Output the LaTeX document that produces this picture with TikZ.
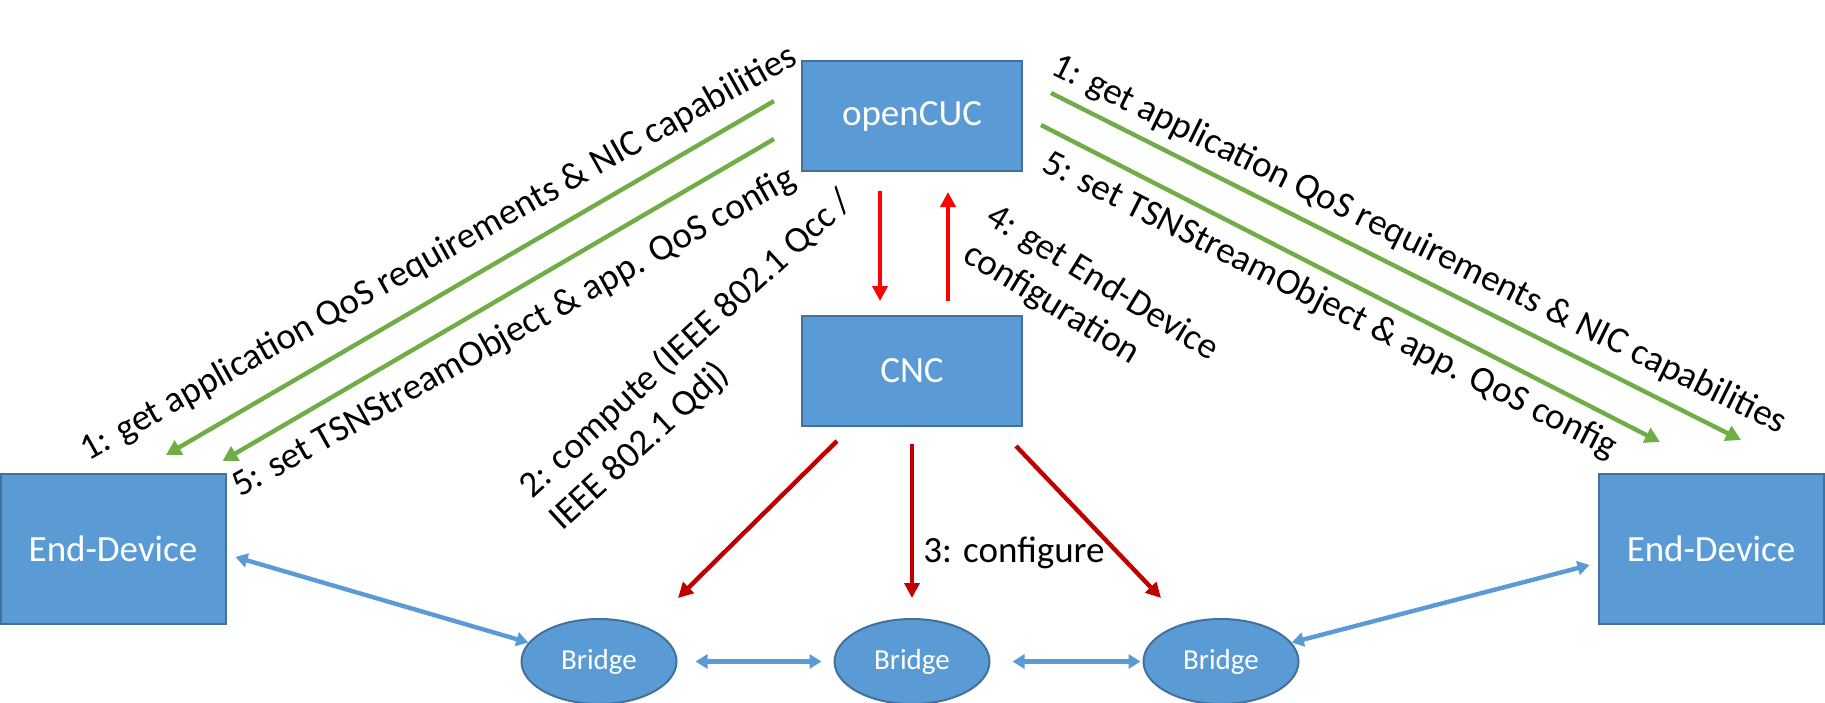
\documentclass[tikz,border=0pt]{standalone}
\usepackage{fontspec}
\setmainfont{Carlito}
\usepackage{tikz}
\usetikzlibrary{arrows.meta,positioning,shapes.geometric}
\definecolor{boxblue}{HTML}{5B9BD5}
\definecolor{boxedge}{HTML}{41719C}
\definecolor{msggreen}{HTML}{70AD47}
\definecolor{cfgred}{HTML}{FF0000}
\definecolor{cfgdark}{HTML}{C00000}
\tikzset{>=Latex}
\tikzset{
  box/.style={draw=boxedge, line width=1pt, fill=boxblue, text=white, inner sep=0pt, align=center, font=\fontsize{18.5}{22}\selectfont},
  bridgebox/.style={ellipse, draw=boxedge, line width=1pt, fill=boxblue, text=white, inner sep=0pt, minimum width=77.5pt, minimum height=42.5pt, font=\fontsize{14.5}{17}\selectfont},
  greenarrow/.style={-{Triangle[length=7.5pt,width=8pt]}, draw=msggreen, line width=2.2pt},
  redarrow/.style={-{Triangle[length=7.5pt,width=7.5pt]}, draw=cfgred, line width=2.2pt},
  darkarrow/.style={-{Triangle[length=7.5pt,width=7.5pt]}, draw=cfgdark, line width=2.2pt},
  linkarrow/.style={{Triangle[length=6pt,width=7pt]}-{Triangle[length=6pt,width=7pt]}, draw=boxblue, line width=2.2pt},
  lbl/.style={inner sep=0pt, align=left, font=\fontsize{18.5}{22}\selectfont},
}

\begin{document}
\begin{tikzpicture}[x=0.5pt, y=-0.5pt]
\useasboundingbox (0,0) rectangle (1825,702);
\node[box, minimum width=110pt, minimum height=55pt] (opencuc) at (912,116) {openCUC};
\node[box, minimum width=110pt, minimum height=55pt, below=71.5pt of opencuc] (cnc) {CNC};
\node[bridgebox, below=95.5pt of cnc] (bridge2) {Bridge};
\node[bridgebox, left=78pt of bridge2] (bridge1) {Bridge};
\node[bridgebox, right=76pt of bridge2] (bridge3) {Bridge};
\node[box, minimum width=112.5pt, minimum height=75pt] (edleft) at (113,549) {End-Device};
\node[box, minimum width=112.5pt, minimum height=75pt] (edright) at (1711,549) {End-Device};

\draw[greenarrow] ([shift={(-27,-15)}]opencuc.west) -- ([shift={(53,-18)}]edleft.north);
\draw[greenarrow] ([shift={(-27,23)}]opencuc.west) -- ([shift={(-4,-12)}]edleft.north east);
\draw[greenarrow] ([shift={(28,-23)}]opencuc.east) -- ([shift={(30,-33)}]edright.north);
\draw[greenarrow] ([shift={(18,9)}]opencuc.east) -- ([shift={(-51,-31)}]edright.north);

\draw[redarrow] ([shift={(-32,19)}]opencuc.south) -- ([shift={(-32,-14)}]cnc.north);
\draw[redarrow] ([shift={(36,-14)}]cnc.north) -- ([shift={(36,20)}]opencuc.south);

\draw[darkarrow] ([shift={(-75,14)}]cnc.south) -- ([shift={(79,-20)}]bridge1.north);
\draw[darkarrow] ([shift={(0,17)}]cnc.south) -- ([shift={(0,-20)}]bridge2.north);
\draw[darkarrow] ([shift={(104,19)}]cnc.south) -- ([shift={(-60,-20)}]bridge3.north);

\draw[linkarrow] ([shift={(9,8)}]edleft.east) -- (bridge1.165);
\draw[linkarrow, shorten <=9pt, shorten >=6pt] (bridge1) -- (bridge2);
\draw[linkarrow, shorten <=11pt, shorten >=1pt] (bridge2) -- (bridge3);
\draw[linkarrow] (bridge3.15) -- ([shift={(-8,16)}]edright.west);

\node[lbl, rotate=29.3, anchor=base west] (lblgetl) at (88,462) {1: get application QoS requirements \& NIC capabilities};
\node[lbl, rotate=29.3, anchor=base west] (lblsetl) at (240,498) {5: set TSNStreamObject \& app. QoS config};
\node[lbl, rotate=-26.3, anchor=base west] (lblgetr) at (1049,73) {1: get application QoS requirements \& NIC capabilities};
\node[lbl, rotate=-26.8, anchor=base west] (lblsetr) at (1040,170) {5: set TSNStreamObject \& app. QoS config};
\node[lbl, rotate=42.5, anchor=base west] (lblcompute) at (562,532) {2: compute (IEEE 802.1 Qcc /\\IEEE 802.1 Qdj)};
\node[lbl, rotate=-31.5, anchor=base west] (lblgetcfg) at (961,260) {4: get End-Device\\configuration};
\node[lbl, anchor=base west] (lblconfigure) at (923,562) {3: configure};
\end{tikzpicture}
\end{document}
